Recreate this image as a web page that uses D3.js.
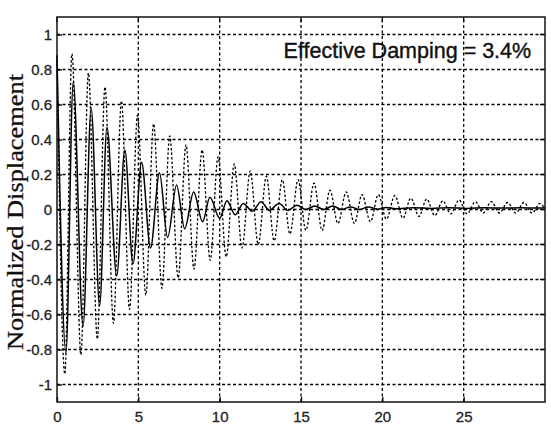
<!DOCTYPE html>
<html>
<head>
<meta charset="utf-8">
<script src="https://cdn.jsdelivr.net/npm/d3@7"></script>
<style>
  body{margin:0;background:#fff;}
  svg{display:block;}
</style>
</head>
<body>
<svg></svg>
<script>
// extrema (time, normalized displacement)
var dashT = [0,0.48,0.92,1.47,1.93,2.48,2.95,3.47,3.96,4.46,4.95,5.46,5.94,6.45,6.93,7.45,7.93,8.42,8.92,9.42,9.9,10.4,10.9,11.37,11.88,12.37,12.87,13.35,13.85,14.32,14.82,15.3,15.8,16.3,16.78,17.27,17.78,18.28,18.75,19.27,19.75,20.25,20.77,21.27,21.75,22.25,22.73,23.22,23.72,24.2,24.72,25.2,25.72,26.2,26.7,27.2,27.7,28.2,28.7,29.2,29.7,30];
var dashV = [0.88,-0.94,0.89,-0.83,0.78,-0.74,0.70,-0.65,0.62,-0.57,0.54,-0.49,0.49,-0.45,0.42,-0.39,0.37,-0.34,0.34,-0.29,0.30,-0.27,0.26,-0.22,0.22,-0.20,0.19,-0.18,0.17,-0.14,0.17,-0.12,0.15,-0.12,0.11,-0.08,0.10,-0.08,0.085,-0.07,0.085,-0.055,0.08,-0.05,0.065,-0.04,0.06,-0.035,0.05,-0.025,0.055,-0.025,0.045,-0.02,0.045,-0.02,0.04,-0.02,0.04,-0.02,0.035,0.0];

var solidT = [0,0.55,1.0,1.6,2.1,2.62,3.07,3.67,4.17,4.67,5.2,5.75,6.3,6.8,7.35,7.85,8.4,8.95,9.4,10.0,10.45,10.95,11.45,12.0,12.55,13.05,13.65,14.2,14.75,15.3,15.85,16.4,16.95,17.5,18.05,18.6,19.15,19.7,20.25,20.8,21.9,23.0,24.1,25.2,26.3,27.4,28.5,29.6,30];
var solidV = [0.88,-0.82,0.73,-0.67,0.58,-0.55,0.47,-0.38,0.34,-0.31,0.27,-0.22,0.21,-0.16,0.14,-0.11,0.10,-0.07,0.07,-0.05,0.05,-0.03,0.035,-0.01,0.045,-0.005,0.035,-0.005,0.025,0.0,0.02,0.0,0.02,0.0,0.015,0.0,0.015,0.002,0.012,0.004,0.01,0.006,0.01,0.006,0.01,0.008,0.01,0.008,0.01];

var xTicks = [0,5,10,15,20,25];
var yTicks = [-1,-0.8,-0.6,-0.4,-0.2,0,0.2,0.4,0.6,0.8,1];
var yLabel = "Normalized Displacement";
var note = "Effective Damping = 3.4%";

var width = 551, height = 437;
var margin = {top:17, right:6, bot:35, left:57};

var svg = d3.select("svg").attr("width",width).attr("height",height);

var xScale = d3.scaleLinear().domain([0,30]).range([margin.left,width-margin.right]);
var yScale = d3.scaleLinear().domain([-1.1,1.1]).range([height-margin.bot,margin.top]);

var x0 = margin.left, x1 = width-margin.right, y0 = height-margin.bot, y1 = margin.top;

// grid
var grid = svg.append("g").attr("stroke","#000").attr("stroke-width",1.3).attr("stroke-dasharray","3,2.5");
grid.selectAll("line.gx").data(xTicks.filter(function(d){return d>0;})).enter().append("line")
  .attr("x1",function(d){return xScale(d);}).attr("x2",function(d){return xScale(d);})
  .attr("y1",y0).attr("y2",y1);
grid.selectAll("line.gy").data(yTicks).enter().append("line")
  .attr("y1",function(d){return yScale(d);}).attr("y2",function(d){return yScale(d);})
  .attr("x1",x0).attr("x2",x1);

// curves
var line = function(ts,vs){
  var pts = ts.map(function(t,i){return [xScale(t),yScale(vs[i])];});
  return d3.line().curve(d3.curveMonotoneX)(pts);
};
svg.append("path").attr("d",line(dashT,dashV))
  .attr("fill","none").attr("stroke","#000").attr("stroke-width",1.3).attr("stroke-dasharray","2.5,2");
svg.append("path").attr("d",line(solidT,solidV))
  .attr("fill","none").attr("stroke","#000").attr("stroke-width",1.5);

// axes
var fmt = function(d){ return String(Math.round(d*10)/10).replace("\u2212","-"); };
var xAxis = d3.axisBottom(xScale).tickValues(xTicks).tickSize(-5).tickPadding(9).tickFormat(fmt);
var yAxis = d3.axisLeft(yScale).tickValues(yTicks).tickSize(-5).tickPadding(5).tickFormat(fmt);

var gx = svg.append("g").attr("transform","translate(0,"+y0+")").call(xAxis);
var gy = svg.append("g").attr("transform","translate("+x0+",0)").call(yAxis);
[gx,gy].forEach(function(g){
  g.select(".domain").remove();
  g.selectAll("line").attr("stroke","#000").attr("stroke-width",1.3);
  g.selectAll("text").attr("font-family","Liberation Sans, Arial, sans-serif").attr("font-size",15)
    .attr("fill","#222").attr("stroke","#222").attr("stroke-width",0.3);
});

// right ticks
svg.append("g").selectAll("line").data(yTicks).enter().append("line")
  .attr("x1",x1).attr("x2",x1-5)
  .attr("y1",function(d){return yScale(d);}).attr("y2",function(d){return yScale(d);})
  .attr("stroke","#000").attr("stroke-width",1.3);
svg.append("g").selectAll("line").data(xTicks).enter().append("line")
  .attr("y1",y1).attr("y2",y1+5)
  .attr("x1",function(d){return xScale(d);}).attr("x2",function(d){return xScale(d);})
  .attr("stroke","#000").attr("stroke-width",1.3);

// frame
svg.append("rect").attr("x",x0).attr("y",y1).attr("width",x1-x0).attr("height",y0-y1)
  .attr("fill","none").attr("stroke","#111").attr("stroke-width",1.5);

// y label
svg.append("text")
  .attr("transform","translate(23,212) rotate(-90)")
  .attr("text-anchor","middle")
  .attr("font-family","Liberation Serif, Times New Roman, serif")
  .attr("font-size",23)
  .attr("textLength",276)
  .attr("lengthAdjust","spacingAndGlyphs")
  .attr("fill","#111")
  .attr("stroke","#111").attr("stroke-width",0.3)
  .text(yLabel);

// note
svg.append("text")
  .attr("x",xScale(29.15)).attr("y",yScale(0.865))
  .attr("text-anchor","end")
  .attr("font-family","Liberation Sans, Arial, sans-serif")
  .attr("font-size",21.5)
  .attr("fill","#111")
  .attr("stroke","#111").attr("stroke-width",0.4)
  .text(note);
</script>
</body>
</html>
